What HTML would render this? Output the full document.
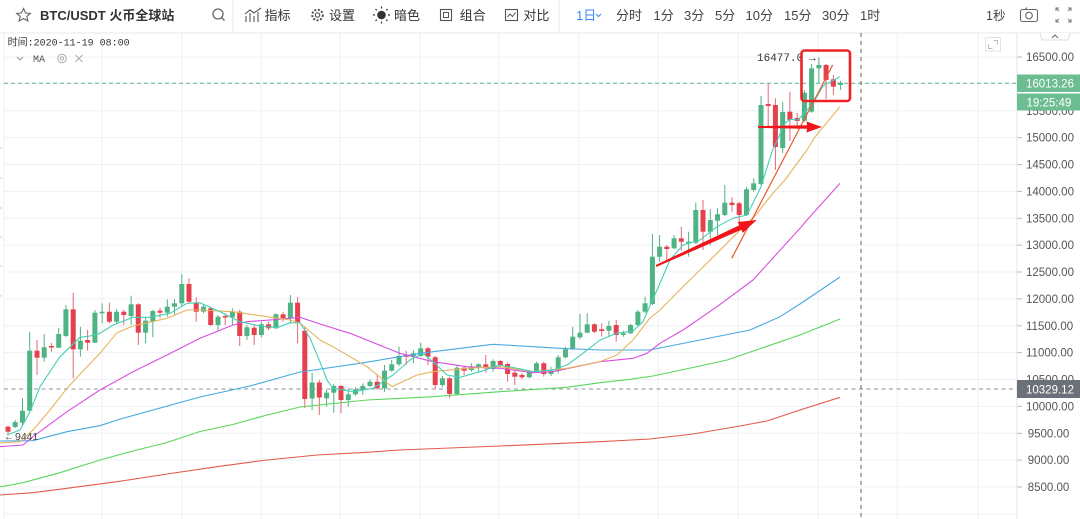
<!DOCTYPE html>
<html><head><meta charset="utf-8"><style>
html,body{margin:0;padding:0;background:#fff;}
svg{display:block;font-family:"Liberation Sans","Noto Sans CJK SC",sans-serif;}
</style></head><body>
<svg width="1080" height="519" viewBox="0 0 1080 519" xmlns="http://www.w3.org/2000/svg">
<rect x="0" y="0" width="1080" height="519" fill="#fff"/>
<g stroke="#edf1f5" stroke-width="1">
<line x1="4" y1="57" x2="1017" y2="57"/><line x1="4" y1="83.9" x2="1017" y2="83.9"/><line x1="4" y1="110.8" x2="1017" y2="110.8"/><line x1="4" y1="137.6" x2="1017" y2="137.6"/><line x1="4" y1="164.5" x2="1017" y2="164.5"/><line x1="4" y1="191.4" x2="1017" y2="191.4"/><line x1="4" y1="218.3" x2="1017" y2="218.3"/><line x1="4" y1="245.1" x2="1017" y2="245.1"/><line x1="4" y1="272" x2="1017" y2="272"/><line x1="4" y1="298.9" x2="1017" y2="298.9"/><line x1="4" y1="325.8" x2="1017" y2="325.8"/><line x1="4" y1="352.6" x2="1017" y2="352.6"/><line x1="4" y1="379.5" x2="1017" y2="379.5"/><line x1="4" y1="406.4" x2="1017" y2="406.4"/><line x1="4" y1="433.3" x2="1017" y2="433.3"/><line x1="4" y1="460.1" x2="1017" y2="460.1"/><line x1="4" y1="487" x2="1017" y2="487"/><line x1="4" y1="514" x2="1017" y2="514"/>
<line x1="4" y1="33" x2="4" y2="519"/><line x1="102" y1="33" x2="102" y2="519"/><line x1="182" y1="33" x2="182" y2="519"/><line x1="261" y1="33" x2="261" y2="519"/><line x1="340" y1="33" x2="340" y2="519"/><line x1="420" y1="33" x2="420" y2="519"/><line x1="499" y1="33" x2="499" y2="519"/><line x1="579" y1="33" x2="579" y2="519"/><line x1="658" y1="33" x2="658" y2="519"/><line x1="738" y1="33" x2="738" y2="519"/><line x1="818" y1="33" x2="818" y2="519"/><line x1="897" y1="33" x2="897" y2="519"/><line x1="978" y1="33" x2="978" y2="519"/>
</g>
<g stroke="#c8ccd2" stroke-width="1"><line x1="0" y1="148" x2="2" y2="148"/><line x1="0" y1="178" x2="2" y2="178"/><line x1="0" y1="208" x2="2" y2="208"/><line x1="0" y1="237" x2="2" y2="237"/><line x1="0" y1="266" x2="2" y2="266"/><line x1="0" y1="296" x2="2" y2="296"/></g>
<line x1="0" y1="33" x2="1080" y2="33" stroke="#e6e9ee"/>
<line x1="233" y1="0" x2="233" y2="33" stroke="#e6e9ee"/>
<line x1="559" y1="0" x2="559" y2="33" stroke="#e6e9ee"/>
<polygon points="23.5,8.5 25.6,13 30.3,13.4 26.8,16.4 27.9,21 23.5,18.5 19.1,21 20.2,16.4 16.7,13.4 21.4,13" fill="none" stroke="#666" stroke-width="1.1"/>
<text x="40" y="20" font-size="13" font-weight="bold" fill="#333">BTC/USDT 火币全球站</text>
<circle cx="218" cy="14" r="5" fill="none" stroke="#666" stroke-width="1.3"/><line x1="221.5" y1="17.5" x2="224.5" y2="20.5" stroke="#666" stroke-width="1.3"/>
<g stroke="#555" stroke-width="1.1" fill="none"><polyline points="245,14 250,10 254,13 261,8"/><line x1="246" y1="16" x2="246" y2="22"/><line x1="250" y1="13" x2="250" y2="22"/><line x1="254" y1="16" x2="254" y2="22"/><line x1="258" y1="12" x2="258" y2="22"/></g>
<text x="264.5" y="20" font-size="13" fill="#333">指标</text>
<circle cx="317.5" cy="15" r="5.3" fill="none" stroke="#555" stroke-width="2" stroke-dasharray="2 1.6"/><circle cx="317.5" cy="15" r="2.2" fill="none" stroke="#555" stroke-width="1.1"/>
<text x="329" y="20" font-size="13" fill="#333">设置</text>
<circle cx="381.5" cy="15" r="4.3" fill="#333"/>
<g stroke="#333" stroke-width="1.2"><line x1="381.5" y1="6.5" x2="381.5" y2="8.5"/><line x1="381.5" y1="21.5" x2="381.5" y2="23.5"/><line x1="373" y1="15" x2="375" y2="15"/><line x1="388" y1="15" x2="390" y2="15"/><line x1="375.5" y1="9" x2="376.8" y2="10.3"/><line x1="386.2" y1="19.7" x2="387.5" y2="21"/><line x1="375.5" y1="21" x2="376.8" y2="19.7"/><line x1="386.2" y1="10.3" x2="387.5" y2="9"/></g>
<text x="394" y="20" font-size="13" fill="#333">暗色</text>
<rect x="440.5" y="9.5" width="11" height="11" fill="none" stroke="#555" stroke-width="1.1"/><rect x="443.5" y="12.5" width="5" height="5" fill="none" stroke="#555" stroke-width="1"/>
<text x="459.7" y="20" font-size="13" fill="#333">组合</text>
<rect x="505.5" y="9.5" width="12" height="11" fill="none" stroke="#555" stroke-width="1.1"/><polyline points="507.5,17 510,14 512.5,16.5 515.5,12.5" fill="none" stroke="#555" stroke-width="1"/>
<text x="523.4" y="20" font-size="13" fill="#333">对比</text>
<text x="576" y="20" font-size="13" fill="#3d8af7">1日</text>
<polyline points="596,14 598.5,16.5 601,14" fill="none" stroke="#3d8af7" stroke-width="1"/>
<g font-size="13" fill="#444"><text x="616" y="20">分时</text><text x="653.5" y="20">1分</text><text x="684" y="20">3分</text><text x="715" y="20">5分</text><text x="745.5" y="20">10分</text><text x="784" y="20">15分</text><text x="822" y="20">30分</text><text x="860" y="20">1时</text><text x="986" y="20" font-size="12.5">1秒</text></g>
<rect x="1020.5" y="9.5" width="17" height="12" rx="2" fill="none" stroke="#666" stroke-width="1.1"/><circle cx="1029" cy="15.5" r="3.3" fill="none" stroke="#666" stroke-width="1.1"/><line x1="1025" y1="9.5" x2="1027" y2="7.5" stroke="#666"/>
<g stroke="#777" stroke-width="1" fill="none"><polyline points="1056,11 1056,8 1059,8"/><line x1="1056" y1="8" x2="1059" y2="11"/><polyline points="1068,8 1071,8 1071,11"/><line x1="1071" y1="8" x2="1068" y2="11"/><polyline points="1056,19 1056,22 1059,22"/><line x1="1056" y1="22" x2="1059" y2="19"/><polyline points="1068,22 1071,22 1071,19"/><line x1="1071" y1="22" x2="1068" y2="19"/></g>
<text x="7.6" y="45.5" font-size="10" fill="#333" font-family="Liberation Mono,Noto Sans CJK SC,monospace">时间:2020-11-19 08:00</text>
<polyline points="17,57 20,60 23,57" fill="none" stroke="#999" stroke-width="1"/>
<text x="33" y="62" font-size="10" fill="#555" font-family="Liberation Mono,monospace">MA</text>
<circle cx="62" cy="58.5" r="4.3" fill="none" stroke="#aaa" stroke-width="1"/><circle cx="62" cy="58.5" r="1.7" fill="none" stroke="#aaa" stroke-width="1"/>
<g stroke="#aaa" stroke-width="1"><line x1="75.5" y1="55" x2="82.5" y2="62"/><line x1="82.5" y1="55" x2="75.5" y2="62"/></g>
<rect x="985.5" y="37.5" width="15" height="13.5" fill="none" stroke="#e0e3e7"/>
<g stroke="#bbb" fill="none" stroke-width="1"><polyline points="988.5,44 988.5,48.5 992.5,48.5"/><polyline points="993.5,40.5 997.5,40.5 997.5,44.5"/></g>
<line x1="1017" y1="33" x2="1017" y2="519" stroke="#e3e6ea"/>
<path d="M1040,33 L1042,40 L1068,40 L1070,33" fill="#fff" stroke="#dcdfe3"/>
<polyline points="1052,38 1055,35 1058,38" fill="none" stroke="#666" stroke-width="1"/>
<g stroke="#bbb"><line x1="1017" y1="57" x2="1022" y2="57"/><line x1="1017" y1="137.6" x2="1022" y2="137.6"/><line x1="1017" y1="164.5" x2="1022" y2="164.5"/><line x1="1017" y1="191.4" x2="1022" y2="191.4"/><line x1="1017" y1="218.3" x2="1022" y2="218.3"/><line x1="1017" y1="245.1" x2="1022" y2="245.1"/><line x1="1017" y1="272" x2="1022" y2="272"/><line x1="1017" y1="298.9" x2="1022" y2="298.9"/><line x1="1017" y1="325.8" x2="1022" y2="325.8"/><line x1="1017" y1="352.6" x2="1022" y2="352.6"/><line x1="1017" y1="406.4" x2="1022" y2="406.4"/><line x1="1017" y1="433.3" x2="1022" y2="433.3"/><line x1="1017" y1="460.1" x2="1022" y2="460.1"/><line x1="1017" y1="487" x2="1022" y2="487"/></g>
<g font-size="11.5" fill="#555">
<text x="1026" y="61">16500.00</text><text x="1026" y="114.8">15500.00</text><text x="1026" y="141.6">15000.00</text><text x="1026" y="168.5">14500.00</text><text x="1026" y="195.4">14000.00</text><text x="1026" y="222.3">13500.00</text><text x="1026" y="249.1">13000.00</text><text x="1026" y="276">12500.00</text><text x="1026" y="302.9">12000.00</text><text x="1026" y="329.8">11500.00</text><text x="1026" y="356.6">11000.00</text><text x="1026" y="383.5">10500.00</text><text x="1026" y="410.4">10000.00</text><text x="1027.7" y="437.3">9500.00</text><text x="1027.7" y="464.1">9000.00</text><text x="1027.7" y="491">8500.00</text>
</g>
<line x1="4" y1="83.3" x2="1017" y2="83.3" stroke="#5fba8c" stroke-dasharray="4 3"/>
<line x1="4" y1="389" x2="1017" y2="389" stroke="#8d939b" stroke-dasharray="4 3.5"/>
<line x1="861" y1="33" x2="861" y2="519" stroke="#5d6066" stroke-dasharray="4 4"/>
<rect x="1017" y="74.5" width="63" height="17.5" fill="#6dbd92"/>
<rect x="1017" y="93.5" width="63" height="17" fill="#6dbd92"/>
<rect x="1017" y="380" width="63" height="18" fill="#6c7078"/>
<g font-size="11.5" fill="#fff"><text x="1026" y="87.5">16013.26</text><text x="1026.5" y="106.5">19:25:49</text><text x="1026" y="393.3">10329.12</text></g>
<g fill="#50b383" stroke="#50b383" stroke-width="1">
<line x1="15.2" y1="420" x2="15.2" y2="428"/><rect x="12.7" y="422" width="5" height="5" stroke="none"/>
<line x1="22.5" y1="398" x2="22.5" y2="425"/><rect x="20" y="410.7" width="5" height="12" stroke="none"/>
<line x1="29.7" y1="331.7" x2="29.7" y2="411"/><rect x="27.2" y="350.7" width="5" height="60" stroke="none"/>
<line x1="44.2" y1="334" x2="44.2" y2="361.7"/><rect x="41.7" y="347.3" width="5" height="10.4" stroke="none"/>
<line x1="58.7" y1="328" x2="58.7" y2="348"/><rect x="56.2" y="334" width="5" height="13.7" stroke="none"/>
<line x1="65.9" y1="305" x2="65.9" y2="337"/><rect x="63.4" y="309.3" width="5" height="26.7" stroke="none"/>
<line x1="80.4" y1="326.7" x2="80.4" y2="356.7"/><rect x="77.9" y="340.7" width="5" height="8.6" stroke="none"/>
<line x1="94.9" y1="310" x2="94.9" y2="343"/><rect x="92.4" y="312.7" width="5" height="30" stroke="none"/>
<line x1="102.1" y1="303.3" x2="102.1" y2="323.3"/><rect x="99.6" y="311.7" width="5" height="1.6" stroke="none"/>
<line x1="116.6" y1="309" x2="116.6" y2="324"/><rect x="114.1" y="311.7" width="5" height="10" stroke="none"/>
<line x1="131.1" y1="295.7" x2="131.1" y2="325"/><rect x="128.6" y="304.3" width="5" height="11.7" stroke="none"/>
<line x1="145.6" y1="316.7" x2="145.6" y2="343.3"/><rect x="143.1" y="320.7" width="5" height="12" stroke="none"/>
<line x1="152.8" y1="310" x2="152.8" y2="337.3"/><rect x="150.3" y="311" width="5" height="10.7" stroke="none"/>
<line x1="167.3" y1="299.3" x2="167.3" y2="316.7"/><rect x="164.8" y="306.7" width="5" height="6" stroke="none"/>
<line x1="174.5" y1="299.3" x2="174.5" y2="315"/><rect x="172" y="303.3" width="5" height="3.4" stroke="none"/>
<line x1="181.8" y1="274.3" x2="181.8" y2="306.7"/><rect x="179.3" y="284" width="5" height="19.3" stroke="none"/>
<line x1="203.5" y1="304.3" x2="203.5" y2="313.3"/><rect x="201" y="306.7" width="5" height="5" stroke="none"/>
<line x1="218" y1="315" x2="218" y2="330.7"/><rect x="215.5" y="316.7" width="5" height="8.3" stroke="none"/>
<line x1="232.4" y1="308.3" x2="232.4" y2="325"/><rect x="229.9" y="311.7" width="5" height="5.6" stroke="none"/>
<line x1="246.9" y1="325" x2="246.9" y2="340"/><rect x="244.4" y="327.3" width="5" height="8.7" stroke="none"/>
<line x1="261.4" y1="321.7" x2="261.4" y2="337.3"/><rect x="258.9" y="324.3" width="5" height="10.7" stroke="none"/>
<line x1="275.9" y1="313.3" x2="275.9" y2="329"/><rect x="273.4" y="314.3" width="5" height="14" stroke="none"/>
<line x1="290.4" y1="295" x2="290.4" y2="323.3"/><rect x="287.9" y="302.7" width="5" height="15.6" stroke="none"/>
<line x1="312.1" y1="372.7" x2="312.1" y2="410"/><rect x="309.6" y="382.5" width="5" height="16" stroke="none"/>
<line x1="326.6" y1="390" x2="326.6" y2="406.7"/><rect x="324.1" y="392.7" width="5" height="5.6" stroke="none"/>
<line x1="333.8" y1="384" x2="333.8" y2="412.7"/><rect x="331.3" y="386" width="5" height="6.7" stroke="none"/>
<line x1="348.3" y1="388.3" x2="348.3" y2="406.7"/><rect x="345.8" y="394.3" width="5" height="5.7" stroke="none"/>
<line x1="355.5" y1="387.3" x2="355.5" y2="395.7"/><rect x="353" y="389.3" width="5" height="5" stroke="none"/>
<line x1="362.8" y1="383.3" x2="362.8" y2="395"/><rect x="360.3" y="386" width="5" height="4" stroke="none"/>
<line x1="370" y1="379.3" x2="370" y2="387.3"/><rect x="367.5" y="381.7" width="5" height="4.3" stroke="none"/>
<line x1="384.5" y1="365" x2="384.5" y2="391.7"/><rect x="382" y="370.7" width="5" height="17.6" stroke="none"/>
<line x1="391.7" y1="360" x2="391.7" y2="371.7"/><rect x="389.2" y="364.3" width="5" height="6.4" stroke="none"/>
<line x1="399" y1="346.7" x2="399" y2="366"/><rect x="396.5" y="356" width="5" height="8.3" stroke="none"/>
<line x1="413.4" y1="350" x2="413.4" y2="363.3"/><rect x="410.9" y="353.3" width="5" height="2.7" stroke="none"/>
<line x1="420.7" y1="342.7" x2="420.7" y2="356.7"/><rect x="418.2" y="348.3" width="5" height="7.7" stroke="none"/>
<line x1="442.4" y1="376" x2="442.4" y2="387.3"/><rect x="439.9" y="378.3" width="5" height="6.7" stroke="none"/>
<line x1="456.9" y1="365" x2="456.9" y2="395"/><rect x="454.4" y="367.7" width="5" height="26.3" stroke="none"/>
<line x1="471.4" y1="363.3" x2="471.4" y2="371.7"/><rect x="468.9" y="367.3" width="5" height="2.7" stroke="none"/>
<line x1="478.6" y1="363.3" x2="478.6" y2="372.7"/><rect x="476.1" y="364.3" width="5" height="2.4" stroke="none"/>
<line x1="493.1" y1="359.3" x2="493.1" y2="371.7"/><rect x="490.6" y="361" width="5" height="8" stroke="none"/>
<line x1="529.3" y1="370" x2="529.3" y2="378.3"/><rect x="526.8" y="371.7" width="5" height="5.6" stroke="none"/>
<line x1="536.5" y1="361.7" x2="536.5" y2="373.3"/><rect x="534" y="363.3" width="5" height="8.4" stroke="none"/>
<line x1="551" y1="366.7" x2="551" y2="376"/><rect x="548.5" y="370.7" width="5" height="3.3" stroke="none"/>
<line x1="558.2" y1="355" x2="558.2" y2="373.3"/><rect x="555.7" y="357.3" width="5" height="13.4" stroke="none"/>
<line x1="565.5" y1="346.7" x2="565.5" y2="358.3"/><rect x="563" y="349.3" width="5" height="8" stroke="none"/>
<line x1="572.7" y1="326.7" x2="572.7" y2="350"/><rect x="570.2" y="336.7" width="5" height="12.6" stroke="none"/>
<line x1="580" y1="314" x2="580" y2="339.3"/><rect x="577.5" y="332.7" width="5" height="4.6" stroke="none"/>
<line x1="587.2" y1="313.3" x2="587.2" y2="333.3"/><rect x="584.7" y="324.3" width="5" height="8.4" stroke="none"/>
<line x1="608.9" y1="320.7" x2="608.9" y2="336.7"/><rect x="606.4" y="326" width="5" height="4.7" stroke="none"/>
<line x1="623.4" y1="330.7" x2="623.4" y2="336.7"/><rect x="620.9" y="333.3" width="5" height="1.7" stroke="none"/>
<line x1="630.6" y1="324" x2="630.6" y2="334"/><rect x="628.1" y="325" width="5" height="8.3" stroke="none"/>
<line x1="637.9" y1="310" x2="637.9" y2="326"/><rect x="635.4" y="311.7" width="5" height="13.3" stroke="none"/>
<line x1="645.1" y1="296.7" x2="645.1" y2="313.3"/><rect x="642.6" y="303.3" width="5" height="8.4" stroke="none"/>
<line x1="652.4" y1="234" x2="652.4" y2="305"/><rect x="649.9" y="256.7" width="5" height="47.3" stroke="none"/>
<line x1="659.6" y1="235" x2="659.6" y2="261.7"/><rect x="657.1" y="246.7" width="5" height="10" stroke="none"/>
<line x1="674.1" y1="235" x2="674.1" y2="249.3"/><rect x="671.6" y="238.3" width="5" height="10" stroke="none"/>
<line x1="688.6" y1="231.7" x2="688.6" y2="256.7"/><rect x="686.1" y="241.7" width="5" height="1.6" stroke="none"/>
<line x1="695.8" y1="202.7" x2="695.8" y2="244"/><rect x="693.3" y="210" width="5" height="32.7" stroke="none"/>
<line x1="710.3" y1="209.3" x2="710.3" y2="245"/><rect x="707.8" y="220" width="5" height="11.7" stroke="none"/>
<line x1="717.5" y1="208.3" x2="717.5" y2="235"/><rect x="715" y="214.3" width="5" height="6.4" stroke="none"/>
<line x1="724.8" y1="185" x2="724.8" y2="216"/><rect x="722.3" y="202.7" width="5" height="12.3" stroke="none"/>
<line x1="746.5" y1="186.7" x2="746.5" y2="216"/><rect x="744" y="189.3" width="5" height="25.7" stroke="none"/>
<line x1="753.7" y1="178.3" x2="753.7" y2="191.7"/><rect x="751.2" y="183.3" width="5" height="6.7" stroke="none"/>
<line x1="761" y1="96" x2="761" y2="185"/><rect x="758.5" y="105" width="5" height="79" stroke="none"/>
<line x1="782.7" y1="102" x2="782.7" y2="153"/><rect x="780.2" y="112" width="5" height="36" stroke="none"/>
<line x1="804.4" y1="90" x2="804.4" y2="121.7"/><rect x="801.9" y="92.7" width="5" height="28" stroke="none"/>
<line x1="811.6" y1="64" x2="811.6" y2="112.7"/><rect x="809.1" y="68.3" width="5" height="43.4" stroke="none"/>
<line x1="818.9" y1="57.3" x2="818.9" y2="83.3"/><rect x="816.4" y="65" width="5" height="3.3" stroke="none"/>
<line x1="840.6" y1="80.7" x2="840.6" y2="90"/><rect x="838.1" y="82.7" width="5" height="2.3" stroke="none"/>
</g>
<g fill="#e4404e" stroke="#e46a74" stroke-width="1">
<line x1="8" y1="425.6" x2="8" y2="435"/><rect x="5.5" y="426.7" width="5" height="5" stroke="none"/>
<line x1="37" y1="340" x2="37" y2="375"/><rect x="34.5" y="350.7" width="5" height="7" stroke="none"/>
<line x1="51.4" y1="343" x2="51.4" y2="351.7"/><rect x="48.9" y="346" width="5" height="1.5" stroke="none"/>
<line x1="73.2" y1="292.7" x2="73.2" y2="378.3"/><rect x="70.7" y="309.3" width="5" height="40" stroke="none"/>
<line x1="87.6" y1="330" x2="87.6" y2="350.7"/><rect x="85.1" y="340" width="5" height="2.7" stroke="none"/>
<line x1="109.4" y1="302.7" x2="109.4" y2="323.3"/><rect x="106.9" y="311.7" width="5" height="10" stroke="none"/>
<line x1="123.8" y1="310" x2="123.8" y2="325"/><rect x="121.3" y="311.7" width="5" height="3.3" stroke="none"/>
<line x1="138.3" y1="303.3" x2="138.3" y2="345"/><rect x="135.8" y="304.3" width="5" height="28.4" stroke="none"/>
<line x1="160" y1="307.7" x2="160" y2="318.3"/><rect x="157.5" y="310.7" width="5" height="2" stroke="none"/>
<line x1="189" y1="278.3" x2="189" y2="303.3"/><rect x="186.5" y="284" width="5" height="17.7" stroke="none"/>
<line x1="196.2" y1="297.3" x2="196.2" y2="321.7"/><rect x="193.7" y="302.7" width="5" height="9" stroke="none"/>
<line x1="210.7" y1="306.7" x2="210.7" y2="326"/><rect x="208.2" y="308.3" width="5" height="16.7" stroke="none"/>
<line x1="225.2" y1="313.3" x2="225.2" y2="325"/><rect x="222.7" y="316" width="5" height="1.5" stroke="none"/>
<line x1="239.7" y1="310" x2="239.7" y2="346"/><rect x="237.2" y="311.7" width="5" height="24.3" stroke="none"/>
<line x1="254.2" y1="325" x2="254.2" y2="345"/><rect x="251.7" y="327.7" width="5" height="7.3" stroke="none"/>
<line x1="268.6" y1="321.7" x2="268.6" y2="330"/><rect x="266.1" y="324.3" width="5" height="4" stroke="none"/>
<line x1="283.1" y1="311.7" x2="283.1" y2="321.7"/><rect x="280.6" y="314.3" width="5" height="4" stroke="none"/>
<line x1="297.6" y1="297" x2="297.6" y2="343.3"/><rect x="295.1" y="302.7" width="5" height="20.6" stroke="none"/>
<line x1="304.8" y1="326.7" x2="304.8" y2="408"/><rect x="302.3" y="330.7" width="5" height="68.3" stroke="none"/>
<line x1="319.3" y1="380" x2="319.3" y2="415"/><rect x="316.8" y="382.5" width="5" height="15" stroke="none"/>
<line x1="341" y1="385" x2="341" y2="413.3"/><rect x="338.5" y="386" width="5" height="14" stroke="none"/>
<line x1="377.2" y1="375" x2="377.2" y2="390"/><rect x="374.7" y="381.7" width="5" height="6.6" stroke="none"/>
<line x1="406.2" y1="350.7" x2="406.2" y2="365"/><rect x="403.7" y="355" width="5" height="1.7" stroke="none"/>
<line x1="427.9" y1="346.7" x2="427.9" y2="365"/><rect x="425.4" y="348.3" width="5" height="8.4" stroke="none"/>
<line x1="435.2" y1="356" x2="435.2" y2="389.3"/><rect x="432.7" y="357.3" width="5" height="27.7" stroke="none"/>
<line x1="449.6" y1="376.7" x2="449.6" y2="398.3"/><rect x="447.1" y="378.3" width="5" height="15.7" stroke="none"/>
<line x1="464.1" y1="366" x2="464.1" y2="375"/><rect x="461.6" y="367.7" width="5" height="3" stroke="none"/>
<line x1="485.8" y1="355" x2="485.8" y2="372.7"/><rect x="483.3" y="364.3" width="5" height="4" stroke="none"/>
<line x1="500.3" y1="360" x2="500.3" y2="366.7"/><rect x="497.8" y="361" width="5" height="4" stroke="none"/>
<line x1="507.6" y1="362.7" x2="507.6" y2="381.7"/><rect x="505.1" y="364" width="5" height="10" stroke="none"/>
<line x1="514.8" y1="370.7" x2="514.8" y2="385"/><rect x="512.3" y="372.7" width="5" height="4" stroke="none"/>
<line x1="522" y1="373.3" x2="522" y2="379.3"/><rect x="519.5" y="375" width="5" height="2.3" stroke="none"/>
<line x1="543.8" y1="361.7" x2="543.8" y2="376.7"/><rect x="541.3" y="363.3" width="5" height="10.7" stroke="none"/>
<line x1="594.4" y1="323.3" x2="594.4" y2="333.3"/><rect x="591.9" y="324.3" width="5" height="7.4" stroke="none"/>
<line x1="601.7" y1="323.3" x2="601.7" y2="336.7"/><rect x="599.2" y="329.3" width="5" height="1.7" stroke="none"/>
<line x1="616.2" y1="320" x2="616.2" y2="341.7"/><rect x="613.7" y="325" width="5" height="10" stroke="none"/>
<line x1="666.8" y1="245" x2="666.8" y2="260"/><rect x="664.3" y="246.7" width="5" height="2.3" stroke="none"/>
<line x1="681.3" y1="226.7" x2="681.3" y2="250.7"/><rect x="678.8" y="238.3" width="5" height="3.4" stroke="none"/>
<line x1="703" y1="200" x2="703" y2="250"/><rect x="700.5" y="210" width="5" height="21.7" stroke="none"/>
<line x1="732" y1="197.3" x2="732" y2="211.7"/><rect x="729.5" y="202.7" width="5" height="2.3" stroke="none"/>
<line x1="739.2" y1="201.7" x2="739.2" y2="225"/><rect x="736.7" y="203.3" width="5" height="11.7" stroke="none"/>
<line x1="768.2" y1="83.3" x2="768.2" y2="126.7"/><rect x="765.7" y="104" width="5" height="2" stroke="none"/>
<line x1="775.4" y1="98.3" x2="775.4" y2="170"/><rect x="772.9" y="105" width="5" height="42" stroke="none"/>
<line x1="789.9" y1="91.7" x2="789.9" y2="141"/><rect x="787.4" y="111.7" width="5" height="8.3" stroke="none"/>
<line x1="797.2" y1="113" x2="797.2" y2="129"/><rect x="794.7" y="118" width="5" height="3" stroke="none"/>
<line x1="826.1" y1="64" x2="826.1" y2="99"/><rect x="823.6" y="65" width="5" height="15" stroke="none"/>
<line x1="833.4" y1="75" x2="833.4" y2="95"/><rect x="830.9" y="79.3" width="5" height="7.4" stroke="none"/>
</g>
<g fill="none" stroke-width="1.1" stroke-linejoin="round">
<polyline stroke="#e25b4b" points="0,495 33,492.7 67,488.3 117,481.7 167,474 217,466.7 267,460 317,455 367,452.3 400,450 500,446 600,441.7 650,439 693,434 740,426 767,421 800,410 840,397.3"/>
<polyline stroke="#5ad65a" points="0,487 23,482.7 60,472.7 100,460 133,451 167,442.5 200,431.5 233,424.5 267,415 300,407 367,400 433,396.7 500,391.7 567,387.3 600,382.7 630,379.3 653,376 700,366 727,360 800,335 840,319"/>
<polyline stroke="#47a9df" points="0,441 33,440.7 67,431.7 100,425.7 117,420 200,397 250,386 300,372 360,363.3 420,353.3 493,344.3 560,348.3 600,350 650,350 700,340 750,330 780,316.7 800,304 840,277"/>
<polyline stroke="#d94fe0" points="0,446.7 23,445 33,436.7 67,411.7 100,390 133,371.7 167,355 200,338.3 233,325 247,321.7 283,319 300,317.3 320,324 350,333.3 400,353.3 433,361.7 467,366.7 500,368.3 533,372.7 553,371.7 600,361.7 633,358.3 647,353.3 660,343.3 683,330 717,306.7 753,280 800,228.3 807,220 840,183.3"/>
<polyline stroke="#e6b45c" points="0,443 20,441.7 33,430 50,410 67,388.3 87,366.7 100,353.3 117,332.7 133,326 167,318.3 187,310 200,310 233,311.7 267,316.7 290,320 300,323 320,340 333,346.7 367,366.7 392,386.7 417,375 433,371.7 467,368.3 500,366.7 533,371.7 567,368.3 600,361.7 617,355 633,340 650,318 660,310 683,286.7 717,253.3 740,230 755,216 773,193 785,180 790,173 807,150 815,137 840,106.7"/>
<polyline stroke="#45cfb6" points="7,435 20,430 30,411.7 40,386.7 60,356.7 80,337.3 90,336 100,333.3 113,325 133,317.3 150,317.3 170,313.3 187,303.3 200,302.7 220,311.7 240,321.7 260,326 277,327.7 290,322.7 300,323 310,338 320,362 327,380 333,388.3 353,391.7 373,388.3 393,375 410,360 423,353.3 433,361.7 447,375 460,377.3 480,371.7 500,365 517,368.3 533,371.7 553,370 567,365 583,353.3 600,340 617,333.3 633,331 643,321.7 657,290 670,260 683,245 700,240 717,226.7 733,218.3 747,215 761,186.7 772,151.7 785,123.3 790,119.3 798,120 813,103.3 823,86 840,76.7"/>
</g>
<text x="757" y="61" font-size="11" fill="#333" font-family="Liberation Mono,monospace">16477.0</text>
<text x="807" y="61" font-size="11" fill="#333">→</text>
<text x="4" y="440" font-size="10" fill="#333">←</text>
<text x="15" y="440" font-size="10.5" fill="#444">9441</text>
<line x1="731.7" y1="258.3" x2="832.7" y2="65" stroke="#e85a2c" stroke-width="1.2"/>
<rect x="801.5" y="50.5" width="48.5" height="50.5" rx="3" fill="none" stroke="#ec2227" stroke-width="2.6"/>
<polygon points="758,126 807,125.3 806.5,121.5 822,127 806.5,132.5 807,128.7 758,128" fill="#f0151b"/>
<polygon points="655.6,265.1 739.3,225.2 737.8,222 756.7,220 742.8,232.9 741.3,229.8 656.4,266.9" fill="#f0151b"/>
</svg>
</body></html>
